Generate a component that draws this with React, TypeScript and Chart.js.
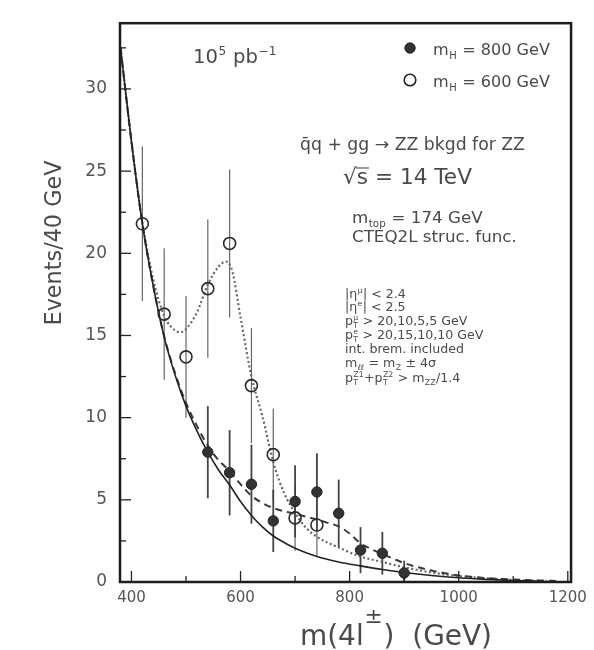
import React, { useEffect, useRef } from "react";
import { Chart, registerables } from "chart.js";

Chart.register(...registerables);

// ---------------- data ----------------
const xTickValues = [400, 600, 800, 1000, 1200];
const xMinorTickValues = [500, 700, 900, 1100];
const yTickValues = [0, 5, 10, 15, 20, 25, 30];
const yMinorTickValues = [2.5, 7.5, 12.5, 17.5, 22.5, 27.5, 32.5];

// filled points: m_H = 800 GeV
const massH800 = [540, 580, 620, 660, 700, 740, 780, 820, 860, 900];
const eventsH800 = [7.9, 6.65, 5.95, 3.72, 4.9, 5.48, 4.18, 1.94, 1.75, 0.55];
const errorsH800 = [2.8, 2.6, 2.4, 1.9, 2.2, 2.35, 2.05, 1.4, 1.3, 0.75];

// open points: m_H = 600 GeV
const massH600 = [420, 460, 500, 540, 580, 620, 660, 700, 740];
const eventsH600 = [21.8, 16.3, 13.7, 17.85, 20.6, 11.95, 7.75, 3.9, 3.47];
const errorsH600 = [4.7, 4.0, 3.7, 4.2, 4.5, 3.5, 2.8, 2.0, 1.9];

// solid curve: ZZ background
const bkgMass = [380, 400, 420, 440, 460, 480, 500, 520, 540, 560, 580, 600, 620, 640, 660, 680, 700, 740, 780, 820, 860, 900, 950, 1000, 1050, 1100, 1150];
const bkgEvents = [32.5, 26.8, 21.8, 18.0, 14.9, 12.6, 10.7, 9.2, 7.9, 6.8, 5.9, 4.9, 4.05, 3.35, 2.8, 2.4, 2.05, 1.55, 1.22, 0.98, 0.76, 0.58, 0.4, 0.26, 0.16, 0.09, 0.04];

// dashed curve: background + m_H = 800 GeV
const sig800Mass = [380, 400, 420, 440, 460, 480, 500, 520, 540, 560, 580, 600, 620, 640, 660, 680, 700, 720, 740, 760, 780, 800, 820, 840, 860, 880, 900, 950, 1000, 1050, 1100, 1150, 1180];
const sig800Events = [32.5, 26.8, 21.8, 18.0, 14.95, 12.7, 10.9, 9.5, 8.3, 7.4, 6.75, 5.95, 5.25, 4.8, 4.5, 4.3, 4.15, 3.98, 3.8, 3.6, 3.38, 2.95, 2.35, 2.0, 1.7, 1.42, 1.15, 0.7, 0.4, 0.24, 0.15, 0.09, 0.06];

// dotted curve: background + m_H = 600 GeV
const sig600Mass = [380, 400, 420, 440, 460, 480, 490, 500, 520, 540, 560, 573, 585, 600, 620, 640, 660, 680, 700, 720, 740, 780, 820, 860, 900, 950, 1000, 1050, 1100, 1150, 1170];
const sig600Events = [32.5, 26.8, 21.9, 18.4, 16.2, 15.3, 15.2, 15.4, 16.4, 18.1, 19.2, 19.5, 18.9, 16.1, 12.5, 10.1, 7.3, 5.4, 4.2, 3.3, 2.75, 2.1, 1.55, 1.22, 0.9, 0.58, 0.36, 0.22, 0.12, 0.06, 0.04];

// ---------------- drawing helpers ----------------
const FONT = "'DejaVu Sans', sans-serif";
const TEXT = "#4a4a4a";

type Seg = { t: string; sub?: string; sup?: string; supScale?: number; supRise?: number };

function measureRich(ctx: CanvasRenderingContext2D, segs: Seg[], size: number) {
  let w = 0;
  for (const s of segs) {
    ctx.font = `${size}px ${FONT}`;
    w += ctx.measureText(s.t).width;
    if (s.sub || s.sup) {
      ctx.font = `${size * (s.supScale ?? 0.62)}px ${FONT}`;
      const a = s.sub ? ctx.measureText(s.sub).width : 0;
      const b = s.sup ? ctx.measureText(s.sup).width : 0;
      w += Math.max(a, b) + size * 0.06;
    }
  }
  return w;
}

function fitSize(ctx: CanvasRenderingContext2D, segs: Seg[], size: number, width: number) {
  const w0 = measureRich(ctx, segs, size);
  return size * Math.min(1.25, Math.max(0.8, width / w0));
}

function drawRich(ctx: CanvasRenderingContext2D, segs: Seg[], x: number, y: number, fs: number, align: "left" | "center" = "left") {
  const total = measureRich(ctx, segs, fs);
  let cx = align === "center" ? x - total / 2 : x;
  ctx.fillStyle = TEXT;
  ctx.textAlign = "left";
  ctx.textBaseline = "alphabetic";
  for (const s of segs) {
    ctx.font = `${fs}px ${FONT}`;
    ctx.fillText(s.t, cx, y);
    cx += ctx.measureText(s.t).width;
    if (s.sub || s.sup) {
      const ss = fs * (s.supScale ?? 0.62);
      ctx.font = `${ss}px ${FONT}`;
      let w = 0;
      if (s.sub) {
        ctx.fillText(s.sub, cx + fs * 0.03, y + fs * 0.22);
        w = ctx.measureText(s.sub).width;
      }
      if (s.sup) {
        ctx.fillText(s.sup, cx + fs * 0.03, y - fs * (s.supRise ?? 0.42));
        w = Math.max(w, ctx.measureText(s.sup).width);
      }
      cx += w + fs * 0.06;
    }
  }
  return total;
}

const overlayPlugin = {
  id: "overlay",
  beforeDatasetsDraw(chart: any) {
    const { ctx, scales } = chart;
    const x = scales.x;
    const y = scales.y;
    const bars = (mass: number[], vals: number[], errs: number[], lw: number, color: string) => {
      ctx.save();
      ctx.strokeStyle = color;
      ctx.lineWidth = lw;
      mass.forEach((m, i) => {
        const px = x.getPixelForValue(m);
        ctx.beginPath();
        ctx.moveTo(px, y.getPixelForValue(vals[i] + errs[i]));
        ctx.lineTo(px, y.getPixelForValue(Math.max(0, vals[i] - errs[i])));
        ctx.stroke();
      });
      ctx.restore();
    };
    bars(massH600, eventsH600, errorsH600, 1.2, "#666");
    bars(massH800, eventsH800, errorsH800, 1.8, "#444");
  },
  afterDraw(chart: any) {
    const { ctx, chartArea: a, scales } = chart;
    const x = scales.x;
    const y = scales.y;
    ctx.save();

    // inward ticks
    ctx.strokeStyle = "#222";
    ctx.lineWidth = 1.3;
    const tick = (x1: number, y1: number, x2: number, y2: number) => {
      ctx.beginPath();
      ctx.moveTo(x1, y1);
      ctx.lineTo(x2, y2);
      ctx.stroke();
    };
    xTickValues.forEach((v) => {
      if (v > x.min + 5 && v < x.max - 5) {
        const p = x.getPixelForValue(v);
        tick(p, a.bottom, p, a.bottom - 11);
      }
    });
    xMinorTickValues.forEach((v) => {
      const p = x.getPixelForValue(v);
      tick(p, a.bottom, p, a.bottom - 6);
    });
    yTickValues.forEach((v) => {
      const p = y.getPixelForValue(v);
      if (v > 0) tick(a.left, p, a.left + 11, p);
    });
    yMinorTickValues.forEach((v) => {
      const p = y.getPixelForValue(v);
      tick(a.left, p, a.left + 6, p);
    });

    // frame
    ctx.strokeStyle = "#1c1c1c";
    ctx.lineWidth = 2.5;
    ctx.strokeRect(a.left, a.top, a.right - a.left, a.bottom - a.top);

    // luminosity
    const lumi: Seg[] = [{ t: "10", sup: "5" }, { t: " pb", sup: "−1" }];
    drawRich(ctx, lumi, 193, 63, fitSize(ctx, lumi, 22, 84));

    // legend
    const leg1: Seg[] = [{ t: "m", sub: "H" }, { t: " = 800 GeV" }];
    const leg2: Seg[] = [{ t: "m", sub: "H" }, { t: " = 600 GeV" }];
    const legSize = fitSize(ctx, leg1, 17, 117);
    ctx.fillStyle = "#333";
    ctx.strokeStyle = "#222";
    ctx.lineWidth = 1;
    ctx.beginPath();
    ctx.arc(410, 48, 5.2, 0, Math.PI * 2);
    ctx.fill();
    ctx.stroke();
    ctx.lineWidth = 1.6;
    ctx.beginPath();
    ctx.arc(410, 80, 5.8, 0, Math.PI * 2);
    ctx.stroke();
    drawRich(ctx, leg1, 433, 55, legSize);
    drawRich(ctx, leg2, 433, 87, legSize);

    // process
    const proc: Seg[] = [{ t: "q\u0304q + gg \u2192 ZZ bkgd for ZZ" }];
    drawRich(ctx, proc, 300, 150, fitSize(ctx, proc, 19, 225));

    // sqrt(s)
    const rs: Seg[] = [{ t: "√s = 14 TeV" }];
    const rsSize = fitSize(ctx, rs, 24, 129);
    drawRich(ctx, rs, 343, 184, rsSize);
    ctx.font = `${rsSize}px ${FONT}`;
    const wRoot = ctx.measureText("√").width;
    const wS = ctx.measureText("√s").width;
    ctx.strokeStyle = TEXT;
    ctx.lineWidth = Math.max(1, rsSize * 0.05);
    ctx.beginPath();
    ctx.moveTo(343 + wRoot - 1, 184 - rsSize * 0.74);
    ctx.lineTo(343 + wS + 1, 184 - rsSize * 0.74);
    ctx.stroke();

    // m_top and PDFs
    const mtop: Seg[] = [{ t: "m", sub: "top" }, { t: " = 174 GeV" }];
    const cteq: Seg[] = [{ t: "CTEQ2L struc. func." }];
    const midSize = fitSize(ctx, cteq, 15, 165);
    drawRich(ctx, mtop, 352, 223, midSize);
    drawRich(ctx, cteq, 352, 242, midSize);

    // cuts
    const cuts: Seg[][] = [
      [{ t: "|η", sup: "μ" }, { t: "| < 2.4" }],
      [{ t: "|η", sup: "e" }, { t: "| < 2.5" }],
      [{ t: "p", sub: "T", sup: "μ" }, { t: " > 20,10,5,5 GeV" }],
      [{ t: "p", sub: "T", sup: "e" }, { t: " > 20,15,10,10 GeV" }],
      [{ t: "int. brem. included" }],
      [{ t: "m", sub: "ℓℓ" }, { t: " = m", sub: "Z" }, { t: " ± 4σ" }],
      [{ t: "p", sub: "T", sup: "Z1" }, { t: "+p", sub: "T", sup: "Z2" }, { t: " > m", sub: "ZZ" }, { t: "/1.4" }],
    ];
    const cutBase = [298, 311, 325, 339, 353, 367, 382];
    const cutSize = 12.6;
    cuts.forEach((segs, i) => drawRich(ctx, segs, 345, cutBase[i], cutSize));

    // axis titles
    const xTitle: Seg[] = [{ t: "m(4l", sup: "±", supScale: 0.78, supRise: 0.78 }, { t: ")  (GeV)" }];
    drawRich(ctx, xTitle, 300, 645, fitSize(ctx, xTitle, 26, 192));

    const yTitle: Seg[] = [{ t: "Events/40 GeV" }];
    const ySize = fitSize(ctx, yTitle, 21, 165);
    ctx.save();
    ctx.translate(61, 243);
    ctx.rotate(-Math.PI / 2);
    drawRich(ctx, yTitle, 0, 0, ySize, "center");
    ctx.restore();

    ctx.restore();
  },
};

const toXY = (xs: number[], ys: number[]) => xs.map((v, i) => ({ x: v, y: ys[i] }));

export default function App() {
  const ref = useRef<HTMLCanvasElement | null>(null);

  useEffect(() => {
    if (!ref.current) return;
    const chart = new Chart(ref.current, {
      type: "scatter",
      data: {
        datasets: [
          {
            label: "m_H = 800 GeV",
            data: toXY(massH800, eventsH800),
            showLine: false,
            pointRadius: 5.2,
            pointBackgroundColor: "#333",
            pointBorderColor: "#222",
            pointBorderWidth: 1,
          },
          {
            label: "m_H = 600 GeV",
            data: toXY(massH600, eventsH600),
            showLine: false,
            pointRadius: 6,
            pointBackgroundColor: "rgba(255,255,255,0)",
            pointBorderColor: "#2a2a2a",
            pointBorderWidth: 1.6,
          },
          {
            label: "ZZ background",
            data: toXY(bkgMass, bkgEvents),
            showLine: true,
            pointRadius: 0,
            borderColor: "#222",
            borderWidth: 1.6,
            cubicInterpolationMode: "monotone",
          },
          {
            label: "background + m_H = 800 GeV",
            data: toXY(sig800Mass, sig800Events),
            showLine: true,
            pointRadius: 0,
            borderColor: "#3a3a3a",
            borderWidth: 2,
            borderDash: [7, 5],
            cubicInterpolationMode: "monotone",
          },
          {
            label: "background + m_H = 600 GeV",
            data: toXY(sig600Mass, sig600Events),
            showLine: true,
            pointRadius: 0,
            borderColor: "#666",
            borderWidth: 2.2,
            borderDash: [2, 2.5],
            cubicInterpolationMode: "monotone",
          },
        ],
      },
      options: {
        animation: false,
        responsive: false,
        devicePixelRatio: 1,
        events: [],
        layout: { padding: { top: 13, right: 17, left: 0, bottom: 0 } },
        plugins: {
          legend: { display: false },
          tooltip: { enabled: false },
          title: { display: false },
        },
        scales: {
          x: {
            type: "linear",
            min: 379,
            max: 1206,
            afterBuildTicks: (s: any) => {
              s.ticks = xTickValues.map((v) => ({ value: v }));
            },
            afterFit: (s: any) => {
              s.height = 68;
            },
            grid: { display: false, drawTicks: false },
            border: { display: false },
            ticks: {
              padding: 7,
              color: "#555",
              font: { family: FONT, size: 15 },
              maxRotation: 0,
              autoSkip: false,
              callback: (v: any) => String(v),
            },
          },
          y: {
            type: "linear",
            min: 0,
            max: 34,
            afterBuildTicks: (s: any) => {
              s.ticks = yTickValues.map((v) => ({ value: v }));
            },
            afterFit: (s: any) => {
              s.width = 120;
            },
            grid: { display: false, drawTicks: false },
            border: { display: false },
            ticks: {
              padding: 13,
              color: "#555",
              font: { family: FONT, size: 17 },
              autoSkip: false,
              callback: (v: any) => String(v),
            },
          },
        },
      },
      plugins: [overlayPlugin],
    } as any);
    return () => chart.destroy();
  }, []);

  return (
    <div style={{ position: "absolute", left: 0, top: 0, width: 594, height: 650, background: "#fff" }}>
      <canvas ref={ref} width={594} height={650} style={{ display: "block" }} />
    </div>
  );
}
